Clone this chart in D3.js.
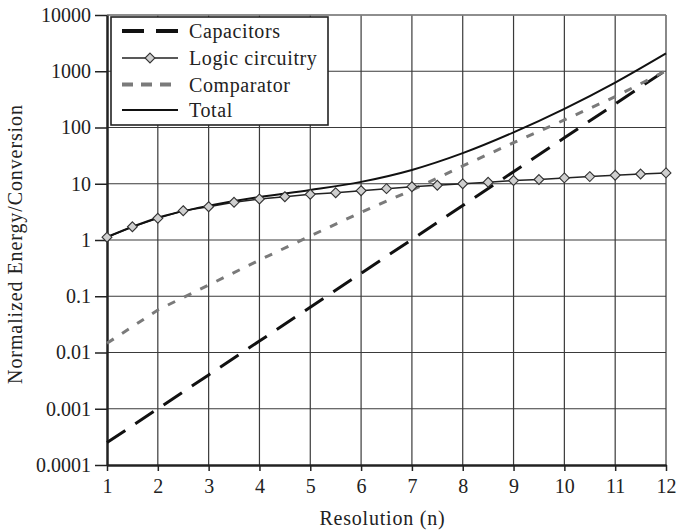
<!DOCTYPE html>
<html>
<head>
<meta charset="utf-8">
<script src="https://cdn.jsdelivr.net/npm/d3@7"></script>
<style>
  html, body { margin: 0; padding: 0; background: #fff; }
  svg { display: block; }
  text { font-family: "Liberation Serif", "Times New Roman", serif; fill: #222; }
</style>
</head>
<body>
<svg id="chart" width="678" height="532"></svg>
<script>
// Resolution in bits
const resolution = [1, 2, 3, 4, 5, 6, 7, 8, 9, 10, 11, 12];
// Energy per conversion, normalized
const capacitors = [0.00025, 0.001, 0.004, 0.016, 0.064, 0.256, 1.02, 4.1, 16.4, 65.5, 262, 1049];
const comparator = [0.0146, 0.057, 0.158, 0.44, 1.18, 3.1, 7.7, 20.7, 53.7, 136, 353, 1020];
const total = [1.13, 2.49, 4.07, 5.82, 7.75, 10.8, 17.6, 35, 82, 215, 630, 2080];
// Logic circuitry is sampled every half bit
const logicResolution = [1, 1.5, 2, 2.5, 3, 3.5, 4, 4.5, 5, 5.5, 6, 6.5, 7, 7.5, 8, 8.5, 9, 9.5, 10, 10.5, 11, 11.5, 12];
const logic = [1.12, 1.72, 2.43, 3.32, 3.91, 4.68, 5.36, 5.89, 6.49, 6.93, 7.53, 8.18, 8.87, 9.4, 10.0, 10.6, 11.4, 11.9, 12.7, 13.4, 14.2, 14.9, 15.6];

const yTicks = [0.0001, 0.001, 0.01, 0.1, 1, 10, 100, 1000, 10000];
const yTickLabels = ["0.0001", "0.001", "0.01", "0.1", "1", "10", "100", "1000", "10000"];
const legendLabels = ["Capacitors", "Logic circuitry", "Comparator", "Total"];
const xTitle = "Resolution (n)";
const yTitle = "Normalized Energy/Conversion";

const svg = d3.select("#chart");
const plotLeft = 107, plotRight = 666, plotTop = 15, plotBottom = 465;

const x = d3.scaleLinear().domain([1, 12]).range([plotLeft, plotRight]);
const y = d3.scaleLog().domain([0.0001, 10000]).range([plotBottom, plotTop]);

// Grid
const grid = svg.append("g");
grid.selectAll("line.v").data(resolution.slice(1)).join("line")
  .attr("x1", d => x(d)).attr("x2", d => x(d))
  .attr("y1", plotTop).attr("y2", plotBottom)
  .attr("stroke", "#3a3a3a").attr("stroke-width", 1.2);
grid.selectAll("line.h").data(yTicks.slice(1)).join("line")
  .attr("x1", plotLeft).attr("x2", plotRight)
  .attr("y1", d => y(d)).attr("y2", d => y(d))
  .attr("stroke", "#3a3a3a").attr("stroke-width", 1.2);
// top border lighter
svg.append("line").attr("x1", plotLeft).attr("x2", plotRight).attr("y1", plotTop).attr("y2", plotTop)
  .attr("stroke", "#8a8a8a").attr("stroke-width", 1.5);

// Axes
const yAxis = d3.axisLeft(y).tickValues(yTicks)
  .tickFormat((d, i) => yTickLabels[i]).tickSizeInner(12).tickSizeOuter(0).tickPadding(4);
const gy = svg.append("g").attr("transform", `translate(${plotLeft},0)`).call(yAxis);
gy.select(".domain").attr("stroke", "#222").attr("stroke-width", 2.5);
gy.selectAll(".tick line").attr("stroke", "#222").attr("stroke-width", 1.5);
gy.selectAll(".tick text").attr("font-size", 20).attr("fill", "#222")
  .attr("font-family", "Liberation Serif, serif");

const xAxis = d3.axisBottom(x).tickValues(resolution)
  .tickFormat(d3.format("d")).tickSizeInner(6).tickSizeOuter(0).tickPadding(8);
const gx = svg.append("g").attr("transform", `translate(0,${plotBottom})`).call(xAxis);
gx.select(".domain").attr("stroke", "#222").attr("stroke-width", 2.5);
gx.selectAll(".tick line").attr("stroke", "#222").attr("stroke-width", 1.5);
gx.selectAll(".tick text").attr("font-size", 20).attr("fill", "#222")
  .attr("font-family", "Liberation Serif, serif");

// Axis titles
svg.append("text").attr("x", (plotLeft + plotRight) / 2 - 4).attr("y", 525)
  .attr("text-anchor", "middle").attr("font-size", 20).attr("letter-spacing", 0.8)
  .text(xTitle);
svg.append("text").attr("transform", "translate(22,244) rotate(-90)")
  .attr("text-anchor", "middle").attr("font-size", 20).attr("letter-spacing", 0.9)
  .text(yTitle);

// Series
const lineInt = d3.line().x((d, i) => x(resolution[i])).y(d => y(d));

svg.append("path").datum(capacitors)
  .attr("d", lineInt).attr("fill", "none")
  .attr("stroke", "#111").attr("stroke-width", 3).attr("stroke-dasharray", "22,12");

svg.append("path").datum(comparator)
  .attr("d", lineInt).attr("fill", "none")
  .attr("stroke", "#7a7a7a").attr("stroke-width", 3).attr("stroke-dasharray", "8,10");

svg.append("path").datum(logic)
  .attr("d", d3.line().x((d, i) => x(logicResolution[i])).y(d => y(d)))
  .attr("fill", "none").attr("stroke", "#222").attr("stroke-width", 1.5);

svg.append("path").datum(total)
  .attr("d", d3.line().x((d, i) => x(resolution[i])).y(d => y(d)).curve(d3.curveMonotoneX))
  .attr("fill", "none").attr("stroke", "#111").attr("stroke-width", 2);

const diamond = d3.symbol().type(d3.symbolDiamond2).size(62);
svg.append("g").selectAll("path").data(logic).join("path")
  .attr("d", diamond)
  .attr("transform", (d, i) => `translate(${x(logicResolution[i])},${y(d)})`)
  .attr("fill", "#cfcfcf").attr("stroke", "#333").attr("stroke-width", 1.1);

// Legend
const lg = svg.append("g");
lg.append("rect").attr("x", 111).attr("y", 17).attr("width", 217).attr("height", 108)
  .attr("fill", "#fff").attr("stroke", "#222").attr("stroke-width", 1.6);
const rowY = [31, 58, 84.5, 110];
const styles = [
  { stroke: "#111", width: 4, dash: "22,12" },
  { stroke: "#222", width: 1.5, dash: null },
  { stroke: "#7a7a7a", width: 4, dash: "11,8" },
  { stroke: "#111", width: 2, dash: null }
];
legendLabels.forEach((lab, i) => {
  const s = styles[i];
  const l = lg.append("line").attr("x1", 122).attr("x2", 178)
    .attr("y1", rowY[i]).attr("y2", rowY[i])
    .attr("stroke", s.stroke).attr("stroke-width", s.width);
  if (s.dash) l.attr("stroke-dasharray", s.dash);
  if (i === 1) {
    lg.append("path").attr("d", diamond)
      .attr("transform", `translate(150,${rowY[i]})`)
      .attr("fill", "#cfcfcf").attr("stroke", "#333").attr("stroke-width", 1.1);
  }
  lg.append("text").attr("x", 189).attr("y", rowY[i]).attr("dy", "0.35em")
    .attr("font-size", 20).attr("letter-spacing", 0.6).text(lab);
});
</script>
</body>
</html>
